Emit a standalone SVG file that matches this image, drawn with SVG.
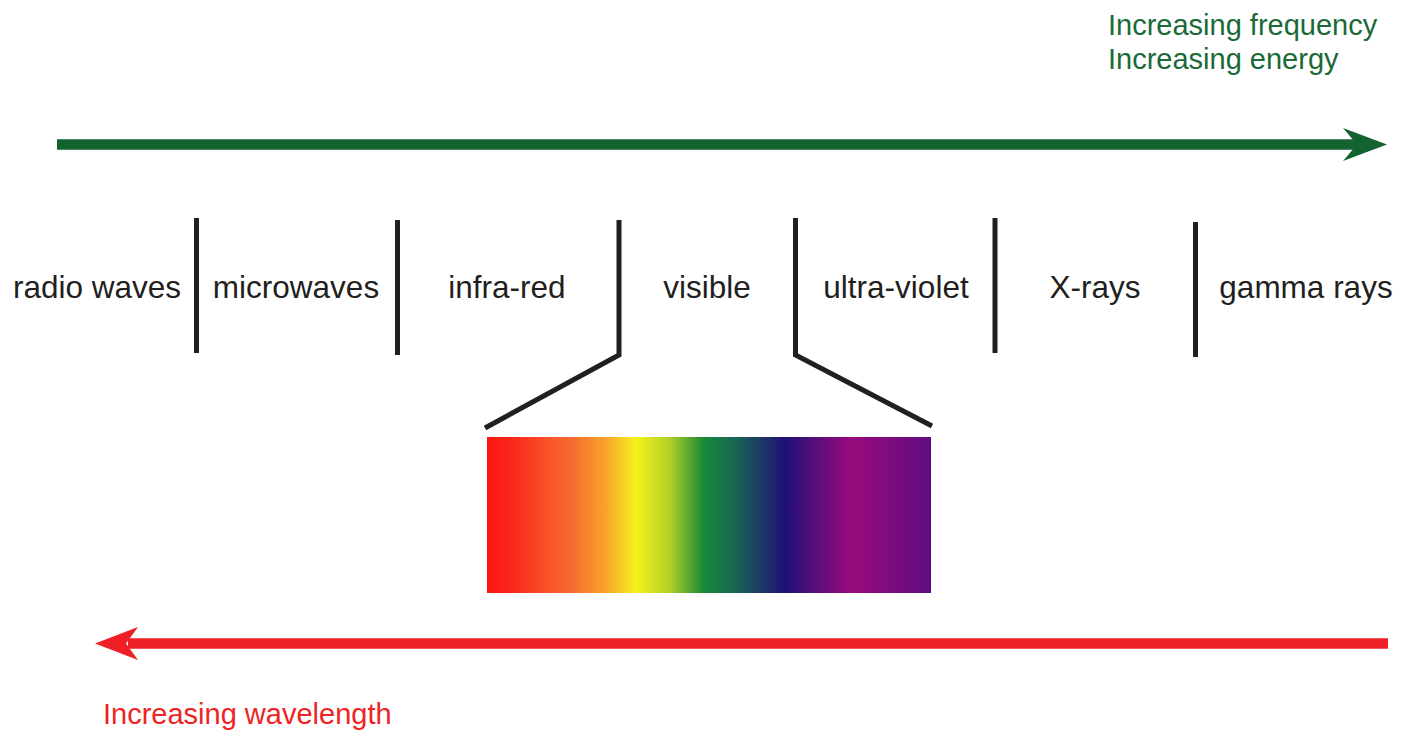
<svg xmlns="http://www.w3.org/2000/svg" width="1413" height="731" viewBox="0 0 1413 731">
<defs>
<style>
.lbl{font-family:"Liberation Sans",Arial,sans-serif;font-size:31.5px;fill:#231f20;text-anchor:middle}
.gtxt{font-family:"Liberation Sans",Arial,sans-serif;font-size:29px;fill:#1a6a38}
.rtxt{font-family:"Liberation Sans",Arial,sans-serif;font-size:29px;fill:#ee2424}
.div{stroke:#231f20;stroke-width:5;fill:none;stroke-linejoin:miter}
</style>
<linearGradient id="spec" x1="0" y1="0" x2="1" y2="0">
<stop offset="0" stop-color="#fe1512"/>
<stop offset="0.06" stop-color="#f9281b"/>
<stop offset="0.15" stop-color="#fa5a2b"/>
<stop offset="0.19" stop-color="#f76a30"/>
<stop offset="0.27" stop-color="#f8a52b"/>
<stop offset="0.335" stop-color="#f6f21b"/>
<stop offset="0.41" stop-color="#b3d125"/>
<stop offset="0.49" stop-color="#168839"/>
<stop offset="0.56" stop-color="#176652"/>
<stop offset="0.67" stop-color="#1f1177"/>
<stop offset="0.82" stop-color="#990b7c"/>
<stop offset="1" stop-color="#5e0c82"/>
</linearGradient>
</defs>
<rect width="1413" height="731" fill="#ffffff"/>
<g id="connectors">
<line x1="57" y1="144.5" x2="1360" y2="144.5" stroke="#12632f" stroke-width="10.5"/>
<path d="M1387,144.5 L1343,128 L1357,144.5 L1343,161 Z" fill="#12632f"/>
<line x1="128" y1="643.5" x2="1388" y2="643.5" stroke="#ee1f26" stroke-width="10.5"/>
<path d="M95,643.5 L138,627 L126,643.5 L138,660 Z" fill="#ee1f26"/>
</g>
<g id="dividers">
<line class="div" x1="196.5" y1="218" x2="196.5" y2="353"/>
<line class="div" x1="397.5" y1="220" x2="397.5" y2="355"/>
<path class="div" d="M619,220 L619,355 L485,428"/>
<path class="div" d="M795.5,218 L795.5,355 L932,426"/>
<line class="div" x1="995" y1="218" x2="995" y2="353"/>
<line class="div" x1="1195.5" y1="222" x2="1195.5" y2="357"/>
</g>
<g id="radio"><text class="lbl" x="97" y="298">radio waves</text></g>
<g id="microwaves"><text class="lbl" x="296" y="298">microwaves</text></g>
<g id="infrared"><text class="lbl" x="507" y="298">infra-red</text></g>
<g id="visible"><text class="lbl" x="707" y="298">visible</text></g>
<g id="ultraviolet"><text class="lbl" x="896" y="298">ultra-violet</text></g>
<g id="xrays"><text class="lbl" x="1095" y="298">X-rays</text></g>
<g id="gamma"><text class="lbl" x="1306" y="298">gamma rays</text></g>
<g id="spectrum"><rect x="487" y="437" width="444" height="156" fill="url(#spec)"/></g>
<g id="freq-label">
<text class="gtxt" x="1108" y="35">Increasing frequency</text>
<text class="gtxt" x="1108" y="69">Increasing energy</text>
</g>
<g id="wave-label"><text class="rtxt" x="103" y="724">Increasing wavelength</text></g>
</svg>
